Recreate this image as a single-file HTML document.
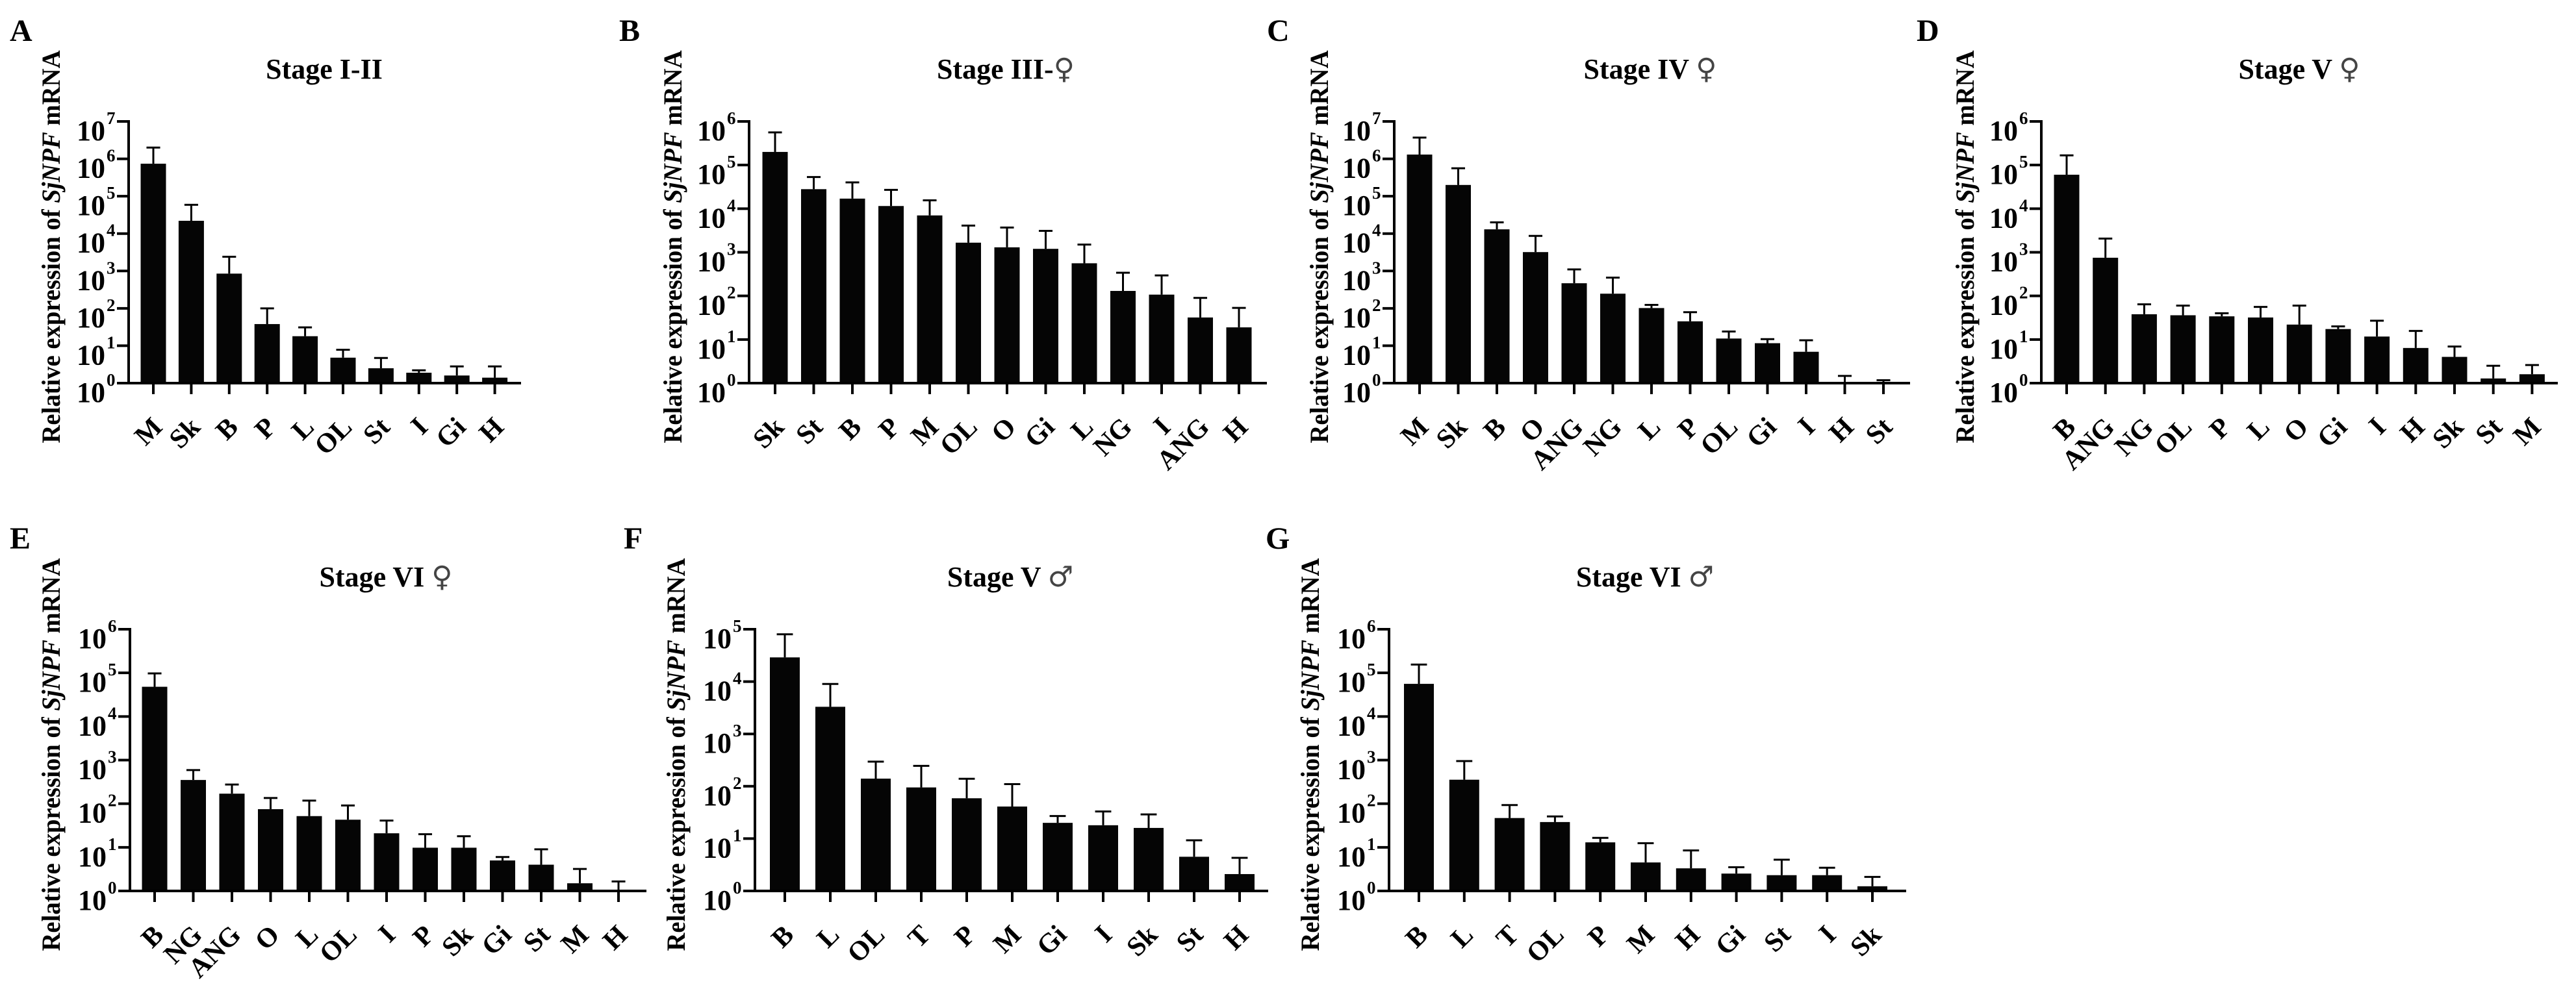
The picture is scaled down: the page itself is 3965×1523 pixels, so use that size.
<!DOCTYPE html>
<html><head><meta charset="utf-8">
<style>
html,body{margin:0;padding:0;background:#fff;}
svg{display:block;font-family:"Liberation Serif","DejaVu Serif",serif;}
</style></head>
<body>
<svg id="fig" width="3965" height="1523" viewBox="0 0 3965 1523" xmlns="http://www.w3.org/2000/svg"></svg>
<script>
// ---- Data ----
const catsA = ["M","Sk","B","P","L","OL","St","I","Gi","H"];
const meanA = [7.4e5,2.2e4,850,38,18,4.8,2.5,1.9,1.6,1.4];
const errA  = [2.0e6,5.9e4,2400,100,31,7.8,4.7,2.2,2.8,2.8];

const catsB = ["Sk","St","B","P","M","OL","O","Gi","L","NG","I","ANG","H"];
const meanB = [2.0e5,2.8e4,1.7e4,1.15e4,7000,1660,1300,1200,560,130,107,32,19];
const errB  = [5.6e5,5.3e4,4.0e4,2.7e4,1.55e4,4100,3700,3100,1500,340,295,90,53];

const catsC = ["M","Sk","B","O","ANG","NG","L","P","OL","Gi","I","H","St"];
const meanC = [1.3e6,2.0e5,1.3e4,3200,470,247,102,45,15.6,11.7,6.9,1.0,1.0];
const errC  = [3.7e6,5.6e5,2.0e4,8700,1100,665,124,79,24,15,14,1.56,1.2];

const catsD = ["B","ANG","NG","OL","P","L","O","Gi","I","H","Sk","St","M"];
const meanD = [6.0e4,750,38,36,34,32,22,17.4,11.7,6.4,4.0,1.28,1.6];
const errD  = [1.67e5,2060,64,60,40,56,60,20,27,15.7,6.9,2.5,2.6];

const catsE = ["B","NG","ANG","O","L","OL","I","P","Sk","Gi","St","M","H"];
const meanE = [4.8e4,350,170,75,52,43,21,9.8,9.8,5,4,1.5,1.05];
const errE  = [9.7e4,590,275,135,118,91,41,20,18,6,9,3.2,1.65];

const catsF = ["B","L","OL","T","P","M","Gi","I","Sk","St","H"];
const meanF = [2.9e4,3300,140,95,59,41,20,18,16,4.5,2.1];
const errF  = [8.0e4,9000,295,245,139,110,27,33,29,9.3,4.3];

const catsG = ["B","L","T","OL","P","M","H","Gi","St","I","Sk"];
const meanG = [5.6e4,355,47,38,13,4.5,3.3,2.5,2.3,2.3,1.28];
const errG  = [1.55e5,950,93,51,16.5,12.4,8.5,3.5,5.2,3.4,2.1];

const titles = ["Stage I-II","Stage III-","Stage IV ","Stage V ","Stage VI ","Stage V ","Stage VI "];
const symbols = ["","\u2640","\u2640","\u2640","\u2640","\u2642","\u2642"];
const letters = ["A","B","C","D","E","F","G"];
const decades = [7,6,7,6,6,5,6];

// ---- Layout (positions, not data) ----
const layout = [
 {id:"a",ax:198, end:802, first:236, sp:58.4, bw:39, base:590, tx:499, lx:15,  yt:78},
 {id:"b",ax:1153,end:1950,first:1193,sp:59.5, bw:39, base:590, tx:1548,lx:953, yt:1035},
 {id:"c",ax:2146,end:2940,first:2185,sp:59.5, bw:39, base:590, tx:2540,lx:1950,yt:2030},
 {id:"d",ax:3142,end:3937,first:3181,sp:59.7, bw:39, base:590, tx:3539,lx:2950,yt:3024},
 {id:"e",ax:200, end:995, first:238, sp:59.5, bw:39, base:1372,tx:594, lx:15,  yt:78},
 {id:"f",ax:1162,end:1952,first:1208,sp:70,   bw:46, base:1372,tx:1555,lx:960, yt:1040},
 {id:"g",ax:2138,end:2934,first:2184,sp:69.8, bw:46, base:1372,tx:2532,lx:1948,yt:2016}
];
const series = [[catsA,meanA,errA],[catsB,meanB,errB],[catsC,meanC,errC],[catsD,meanD,errD],
                [catsE,meanE,errE],[catsF,meanF,errF],[catsG,meanG,errG]];
const AXH = 403;
const NS = "http://www.w3.org/2000/svg";
const svg = document.getElementById("fig");
function mk(tag, attrs, parent){
  const e = document.createElementNS(NS, tag);
  for (const k in attrs) e.setAttribute(k, attrs[k]);
  (parent||svg).appendChild(e);
  return e;
}

layout.forEach((L, i) => {
  const [cats, means, errs] = series[i];
  const dec = decades[i];
  const g = mk("g", {});
  
  
  const yOf = v => L.base - Math.log10(Math.max(v,1)) / dec * AXH;
  const xOf = k => L.first + k * L.sp;
  const top = L.base - AXH;

  // panel letter
  const lt = mk("text", {x:L.lx, y:L.base-527, "font-size":48, "font-weight":"bold", fill:"#000"}, g);
  lt.textContent = letters[i];
  
  

  // title
  const tt = mk("text", {x:L.tx, y:L.base-469, "font-size":44, "font-weight":"bold", "text-anchor":"middle", fill:"#000"}, g);
  tt.textContent = titles[i];
  if (symbols[i]) {
    const sy = mk("tspan", {"font-family":"DejaVu Sans, sans-serif", "font-weight":"normal", fill:"#444"}, tt);
    sy.textContent = symbols[i];
  }
  
  

  // y-axis title
  const yc = L.base - 210;
  const yt = mk("text", {x:0, y:0, "font-size":40, "font-weight":"bold", "text-anchor":"middle",
     transform:`translate(${L.yt+14},${yc}) rotate(-90)`, textLength:605, lengthAdjust:"spacingAndGlyphs", fill:"#000"}, g);
  const t1 = mk("tspan", {}, yt); t1.textContent = "Relative expression of ";
  const t2 = mk("tspan", {"font-style":"italic"}, yt); t2.textContent = "SjNPF";
  const t3 = mk("tspan", {}, yt); t3.textContent = " mRNA";
  
  

  // bars + error bars
  cats.forEach((c, k) => {
    const cx = xOf(k);
    const yb = yOf(means[k]);
    const ye = yOf(errs[k]);
    const eb = mk("line", {x1:cx, x2:cx, y1:yb, y2:ye, stroke:"#000", "stroke-width":3}, g);
    
    
    const ec = mk("line", {x1:cx-L.bw*0.27, x2:cx+L.bw*0.27, y1:ye, y2:ye, stroke:"#000", "stroke-width":3}, g);
    
    
    const r = mk("rect", {x:cx-L.bw/2, y:yb, width:L.bw, height:Math.max(L.base-yb,0), fill:"#050505"}, g);
    
    
    const tk = mk("line", {x1:cx, x2:cx, y1:L.base, y2:L.base+17, stroke:"#000", "stroke-width":4}, g);
    
    
    const xl = mk("text", {x:0, y:0, "font-size":42, "font-weight":"bold", "text-anchor":"end",
       transform:`translate(${cx+16},${L.base+70}) rotate(-45)`, fill:"#000"}, g);
    xl.textContent = c;
    
    
  });

  // axes
  const ya = mk("line", {x1:L.ax, x2:L.ax, y1:top-2, y2:L.base+2, stroke:"#000", "stroke-width":4}, g);
  
  
  const xa = mk("line", {x1:L.ax-2, x2:L.end, y1:L.base, y2:L.base, stroke:"#000", "stroke-width":4}, g);
  
  

  for (let p = 0; p <= dec; p++) {
    const ty = yOf(Math.pow(10, p));
    const yk = mk("line", {x1:L.ax-18, x2:L.ax, y1:ty, y2:ty, stroke:"#000", "stroke-width":4}, g);
    
    
    const yl = mk("text", {x:L.ax-36, y:ty+29, "font-size":44, "font-weight":"bold", "text-anchor":"end", fill:"#000"}, g);
    yl.textContent = "10";
    
    
    const ys = mk("text", {x:L.ax-34, y:ty+4, "font-size":27, "font-weight":"bold", fill:"#000"}, g);
    ys.textContent = String(p);
    
    
  }
});
</script>
</body></html>
